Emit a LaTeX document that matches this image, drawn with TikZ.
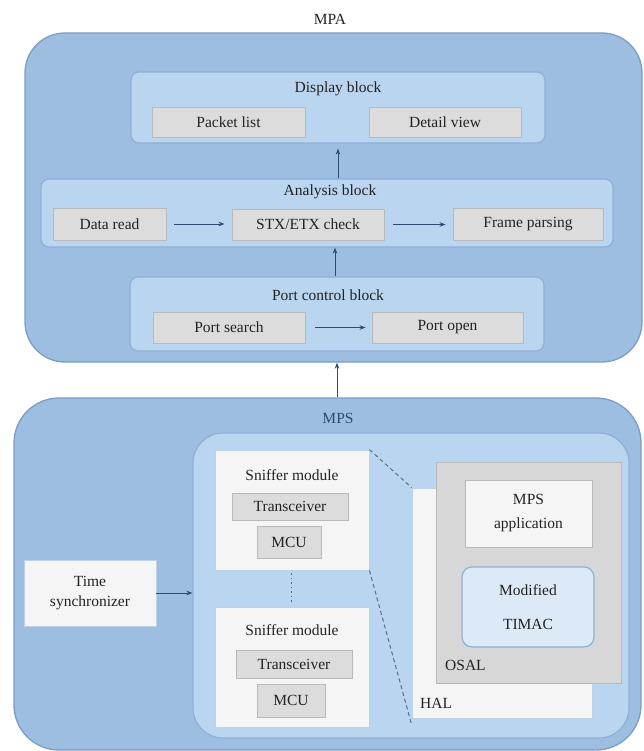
\documentclass[tikz,border=0pt]{standalone}
\usepackage{fontspec}
\setmainfont{Liberation Serif}
\usetikzlibrary{arrows.meta,calc}
\definecolor{outerfill}{HTML}{9DBEE1}
\definecolor{outerdraw}{HTML}{7C9DC4}
\definecolor{blockfill}{HTML}{BAD5EF}
\definecolor{blockdraw}{HTML}{8FB0D6}
\definecolor{grayfill}{HTML}{DCDCDC}
\definecolor{graydraw}{HTML}{B9B9B9}
\definecolor{whitefill}{HTML}{F5F5F5}
\definecolor{osalfill}{HTML}{D7D7D7}
\definecolor{timacfill}{HTML}{DCE9F6}
\definecolor{txt}{HTML}{222222}
\definecolor{arrc}{HTML}{2D4B70}
\tikzset{
  every node/.style={font=\fontsize{15.5}{17}\selectfont, text=txt, inner sep=0pt},
  outerbox/.style={draw=outerdraw, fill=outerfill, line width=1.3pt, rounded corners=40pt},
  blockbox/.style={draw=blockdraw, fill=blockfill, line width=1.2pt, rounded corners=8pt},
  graybox/.style={draw=graydraw, fill=grayfill, line width=0.9pt},
  whitebox/.style={draw=blockdraw!60!white, fill=whitefill, line width=0.9pt},
  arr/.style={draw=arrc, line width=1pt, -{Stealth[length=6pt,width=4.5pt]}},
  dashline/.style={draw=arrc!80!white, line width=1pt, dash pattern=on 4pt off 3pt},
}
\begin{document}
\begin{tikzpicture}[x=1pt,y=-1pt]
\useasboundingbox (0,0) rectangle (643,751);
% ---------------- MPA ----------------
\node (mpalbl) at (330,19) {MPA};
\node[outerbox, minimum width=617pt, minimum height=329pt] (mpa) at (333.5,197.5) {};
\node[blockbox, minimum width=414pt, minimum height=71pt] (display) at (338,107.5) {};
\node (displbl) at (338,89) {Display block};
\node[graybox, minimum width=153pt, minimum height=30pt] (packet) at (228.5,122) {Packet list};
\node[graybox, minimum width=152pt, minimum height=30pt] (detail) at (445,122) {Detail view};

\node[blockbox, minimum width=572pt, minimum height=68pt] (analysis) at (327,213) {};
\node (analbl) at (330,192) {Analysis block};
\node[graybox, minimum width=113pt, minimum height=32pt] (dataread) at (109.5,224) {Data read};
\node[graybox, minimum width=152pt, minimum height=31pt] (stx) at (308,224.5) {STX/ETX check};
\node[graybox, minimum width=150pt, minimum height=32pt] (frame) at (528,224) {Frame parsing};

\node[blockbox, minimum width=414pt, minimum height=74pt] (port) at (337,314) {};
\node (portlbl) at (328,295) {Port control block};
\node[graybox, minimum width=152pt, minimum height=31pt] (search) at (229,327.5) {Port search};
\node[graybox, minimum width=151pt, minimum height=31pt] (open) at (447.5,327.5) {Port open};

\draw[arr] ([xshift=8pt]dataread.east) -- ([xshift=-7pt]stx.west |- dataread.east);
\draw[arr] ([xshift=9pt]stx.east) -- ([xshift=-7pt]frame.west |- stx.east);
\draw[arr] ([xshift=10pt]search.east) -- ([xshift=-6pt]open.west);
\draw[arr] (analysis.north -| display.center) -- ([yshift=-5pt]display.south);
\draw[arr] (port.north -| stx.center) ++(27pt,0) -- ([xshift=27pt]analysis.south -| stx.center);

% ---------------- MPS ----------------
\node[outerbox, rounded corners=45pt, minimum width=627pt, minimum height=352pt] (mps) at (327.5,574) {};
\node[text=arrc] (mpslbl) at (338,418) {MPS};
\node[draw=blockdraw, fill=blockfill, line width=1.2pt, rounded corners=30pt, minimum width=436pt, minimum height=305pt] (inner) at (411,585.5) {};

\draw[arr] (mps.north -| port.center) -- (mpa.south -| port.center);

\node[whitebox, minimum width=132pt, minimum height=66pt, align=center, font=\fontsize{15.5}{20}\selectfont] (ts) at (90,593) {Time\\synchronizer};
\draw[arr] (ts.east) -- (ts.east -| inner.west);

\node[whitebox, minimum width=154pt, minimum height=120pt] (sn1) at (292,510) {};
\node (sn1lbl) at (292,475) {Sniffer module};
\node[graybox, minimum width=116pt, minimum height=27pt] (tr1) at (290,506.5) {Transceiver};
\node[graybox, minimum width=64pt, minimum height=32pt] (mcu1) at (289,542) {MCU};

\node[whitebox, minimum width=154pt, minimum height=120pt] (sn2) at (292,667) {};
\node (sn2lbl) at (292,630) {Sniffer module};
\node[graybox, minimum width=116pt, minimum height=28pt] (tr2) at (294,664) {Transceiver};
\node[graybox, minimum width=68pt, minimum height=33pt] (mcu2) at (291,700.5) {MCU};

\draw[draw=arrc!80!white, line width=1pt, dash pattern=on 1.5pt off 3pt] ([yshift=-3pt]sn1.south -| 291,0) -- ([yshift=3pt]sn2.north -| 291,0);

\node[whitebox, minimum width=180pt, minimum height=230pt] (hal) at (502,603) {};
\node[anchor=west] (hallbl) at (420,703) {HAL};
\node[draw=graydraw, fill=osalfill, line width=0.9pt, minimum width=185pt, minimum height=221pt] (osal) at (528.5,572.5) {};
\node[anchor=west] (osallbl) at (445,665) {OSAL};
\node[whitebox, draw=graydraw, minimum width=127pt, minimum height=67pt, align=center, font=\fontsize{15.5}{24}\selectfont] (app) at (528.5,513.5) {MPS\\application};
\node[draw=blockdraw, fill=timacfill, line width=1.2pt, rounded corners=10pt, minimum width=132pt, minimum height=80pt, align=center, font=\fontsize{15.5}{34}\selectfont] (timac) at (528,607) {Modified\\TIMAC};

\draw[dashline] (sn1.north east) -- (hal.north west);
\draw[dashline] (sn1.south east) -- ([yshift=-6pt]hal.south west);
\end{tikzpicture}
\end{document}
